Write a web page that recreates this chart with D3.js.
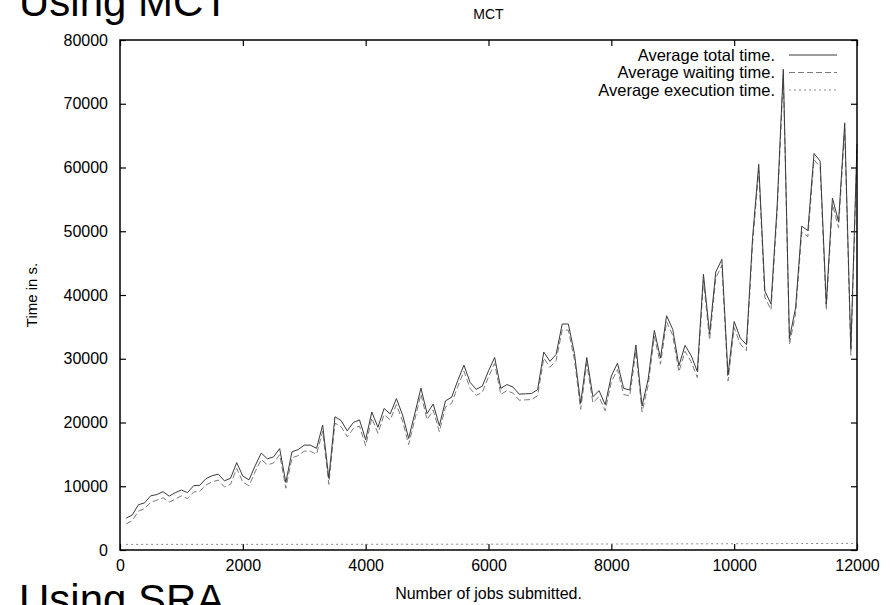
<!DOCTYPE html>
<html>
<head>
  <meta charset="utf-8">
  <title>MCT</title>
  <script src="https://d3js.org/d3.v7.min.js"></script>
  <style>
    body { margin: 0; background: #fff; }
    text { font-family: "Liberation Sans", Arial, Helvetica, sans-serif; }
  </style>
</head>
<body>
  <svg id="chart"></svg>

  <script>
    // number of jobs submitted (x)
    const jobs = [
      100, 200, 300, 400, 500, 600, 700, 800, 900, 1000,
      1100, 1200, 1300, 1400, 1500, 1600, 1700, 1800, 1900, 2000,
      2100, 2200, 2300, 2400, 2500, 2600, 2700, 2800, 2900, 3000,
      3100, 3200, 3300, 3400, 3500, 3600, 3700, 3800, 3900, 4000,
      4100, 4200, 4300, 4400, 4500, 4600, 4700, 4800, 4900, 5000,
      5100, 5200, 5300, 5400, 5500, 5600, 5700, 5800, 5900, 6000,
      6100, 6200, 6300, 6400, 6500, 6600, 6700, 6800, 6900, 7000,
      7100, 7200, 7300, 7400, 7500, 7600, 7700, 7800, 7900, 8000,
      8100, 8200, 8300, 8400, 8500, 8600, 8700, 8800, 8900, 9000,
      9100, 9200, 9300, 9400, 9500, 9600, 9700, 9800, 9900, 10000,
      10100, 10200, 10300, 10400, 10500, 10600, 10700, 10800, 10900, 11000,
      11100, 11200, 11300, 11400, 11500, 11600, 11700, 11800, 11900, 12000
    ];

    // average total time (s)
    const totalTime = [
      5000, 5500, 7100, 7400, 8500, 8700, 9150, 8450, 9000, 9400,
      9000, 10100, 10150, 11200, 11650, 11900, 10850, 11250, 13700, 11600,
      11000, 13200, 15200, 14300, 14600, 15900, 10600, 15400, 15750, 16450,
      16450, 15950, 19600, 11250, 20900, 20300, 18700, 20000, 20400, 17300,
      21650, 19250, 22200, 21350, 23750, 21200, 17500, 21400, 25400, 21400,
      22900, 19500, 23400, 23950, 26600, 29000, 26300, 25200, 25700, 28100,
      30200, 25350, 25950, 25550, 24450, 24500, 24550, 25150, 31050, 29600,
      30650, 35450, 35450, 30800, 23000, 30200, 24050, 25000, 22800, 27300,
      29300, 25350, 25100, 32150, 22600, 26800, 34450, 30100, 36750, 34600,
      28900, 32100, 30500, 28000, 43250, 33900, 43600, 45600, 27450, 35850,
      33250, 32200, 49000, 60500, 40600, 38600, 54000, 75400, 33200, 38000,
      50800, 50100, 62200, 61000, 38600, 55200, 51500, 67000, 31500, 63700
    ];

    // average waiting time (s)
    const waitingTime = [
      4100, 4600, 6100, 6500, 7500, 7800, 8200, 7500, 8000, 8500,
      8050, 9100, 9200, 10200, 10700, 10950, 9900, 10300, 12800, 10650,
      10050, 12250, 14200, 13350, 13650, 14950, 9700, 14450, 14800, 15500,
      15500, 15000, 18650, 10300, 19900, 19350, 17750, 19050, 19450, 16350,
      20700, 18300, 21250, 20400, 22800, 20250, 16550, 20450, 24450, 20450,
      21950, 18550, 22450, 23000, 25650, 28050, 25350, 24250, 24750, 27150,
      29250, 24400, 25000, 24600, 23500, 23550, 23600, 24200, 30100, 28650,
      29700, 34500, 34500, 29850, 22050, 29250, 23100, 24050, 21850, 26350,
      28300, 24400, 24150, 31200, 21650, 25850, 33500, 29150, 35800, 33650,
      27950, 31150, 29550, 27050, 42300, 32950, 42650, 44650, 26500, 34900,
      32300, 31250, 48050, 59550, 39650, 37650, 53050, 74450, 32250, 37050,
      49850, 49150, 61250, 60050, 37650, 54250, 50550, 66050, 30550, 62750
    ];

    // average execution time (s)
    const execTime = [
      880, 870, 885, 880, 890, 875, 880, 885, 880, 890,
      885, 880, 890, 885, 880, 890, 885, 890, 880, 885,
      890, 885, 890, 880, 890, 895, 885, 890, 895, 890,
      895, 890, 900, 885, 895, 900, 890, 895, 900, 895,
      900, 895, 905, 900, 895, 905, 900, 905, 910, 900,
      905, 910, 905, 910, 915, 905, 910, 915, 910, 920,
      915, 920, 915, 920, 925, 920, 925, 930, 920, 930,
      925, 935, 930, 935, 940, 930, 940, 935, 945, 940,
      945, 950, 940, 955, 945, 955, 950, 960, 955, 960,
      965, 960, 970, 965, 975, 970, 980, 975, 985, 980,
      990, 985, 995, 1000, 990, 1005, 1000, 1010, 1005, 1015,
      1010, 1020, 1015, 1025, 1020, 1030, 1025, 1035, 1030, 1040
    ];

    const xTicks = [0, 2000, 4000, 6000, 8000, 10000, 12000];
    const yTicks = [0, 10000, 20000, 30000, 40000, 50000, 60000, 70000, 80000];

    const seriesNames = ["Average total time.", "Average waiting time.", "Average execution time."];

    const width = 892;
    const height = 605;
    const margin = { top: 40, right: 35, bottom: 55, left: 120 };
    const plotW = width - margin.left - margin.right;
    const plotH = height - margin.top - margin.bottom;

    const svg = d3.select("#chart")
      .attr("width", width)
      .attr("height", height);

    const x = d3.scaleLinear().domain([0, 12000]).range([margin.left, margin.left + plotW]);
    const y = d3.scaleLinear().domain([0, 80000]).range([margin.top + plotH, margin.top]);

    // big slide captions (cut off by the page edge, as in the slide)
    svg.append("text")
      .attr("x", 19)
      .attr("y", 16)
      .attr("font-size", "42px")
      .attr("fill", "#000")
      .text("Using MCT");

    svg.append("text")
      .attr("x", 19)
      .attr("y", 614)
      .attr("font-size", "42px")
      .attr("fill", "#000")
      .text("Using SRA");

    // chart title
    svg.append("text")
      .attr("x", (x.range()[0] + x.range()[1]) / 2)
      .attr("y", 19)
      .attr("text-anchor", "middle")
      .attr("font-size", "14px")
      .text("MCT");

    // axes, ticks pointing inward on every side
    const tickStyle = g => {
      g.select(".domain").remove();
      g.selectAll(".tick line").attr("stroke", "#000").attr("stroke-width", 1.2);
      g.selectAll(".tick text").attr("font-size", "16px").attr("fill", "#000")
        .attr("font-family", "Liberation Sans, Arial, sans-serif");
    };

    svg.append("g")
      .attr("transform", `translate(0,${y(0)})`)
      .call(d3.axisBottom(x).tickValues(xTicks).tickSize(-6).tickPadding(10).tickFormat(d3.format("d")))
      .call(tickStyle);

    svg.append("g")
      .attr("transform", `translate(0,${y(80000)})`)
      .call(d3.axisTop(x).tickValues(xTicks).tickSize(-6).tickFormat(""))
      .call(tickStyle);

    svg.append("g")
      .attr("transform", `translate(${x(0)},0)`)
      .call(d3.axisLeft(y).tickValues(yTicks).tickSize(-6).tickPadding(12).tickFormat(d3.format("d")))
      .call(tickStyle);

    svg.append("g")
      .attr("transform", `translate(${x(12000)},0)`)
      .call(d3.axisRight(y).tickValues(yTicks).tickSize(-6).tickFormat(""))
      .call(tickStyle);

    // axis labels
    svg.append("text")
      .attr("x", (x.range()[0] + x.range()[1]) / 2)
      .attr("y", 599)
      .attr("text-anchor", "middle")
      .attr("font-size", "16px")
      .text("Number of jobs submitted.");

    svg.append("text")
      .attr("transform", `translate(37,${(y.range()[0] + y.range()[1]) / 2}) rotate(-90)`)
      .attr("text-anchor", "middle")
      .attr("font-size", "15px")
      .text("Time in s.");

    // lines
    const styles = [
      { color: "#3a3a3a", dash: null, width: 1 },
      { color: "#7a7a7a", dash: "6,3", width: 1 },
      { color: "#8a8a8a", dash: "2,3", width: 1 }
    ];
    const seriesValues = [totalTime, waitingTime, execTime];

    const line = d3.line()
      .x(d => x(d[0]))
      .y(d => y(d[1]));

    // draw execution first, total last (on top)
    [2, 1, 0].forEach(i => {
      const pts = jobs.map((j, k) => [j, seriesValues[i][k]]);
      svg.append("path")
        .datum(pts)
        .attr("fill", "none")
        .attr("stroke", styles[i].color)
        .attr("stroke-width", styles[i].width)
        .attr("stroke-dasharray", styles[i].dash)
        .attr("d", line);
    });

    // legend
    const legend = svg.append("g");
    seriesNames.forEach((name, i) => {
      const ly = 55 + i * 17.5;
      legend.append("text")
        .attr("x", 775)
        .attr("y", ly)
        .attr("dy", "0.35em")
        .attr("text-anchor", "end")
        .attr("font-size", "16.5px")
        .text(name);
      legend.append("line")
        .attr("x1", 789).attr("x2", 837)
        .attr("y1", ly).attr("y2", ly)
        .attr("stroke", styles[i].color)
        .attr("stroke-width", 1)
        .attr("stroke-dasharray", styles[i].dash);
    });

    // plot frame
    svg.append("rect")
      .attr("x", x(0))
      .attr("y", y(80000))
      .attr("width", x(12000) - x(0))
      .attr("height", y(0) - y(80000))
      .attr("fill", "none")
      .attr("stroke", "#000")
      .attr("stroke-width", 1.5);
  </script>
</body>
</html>
